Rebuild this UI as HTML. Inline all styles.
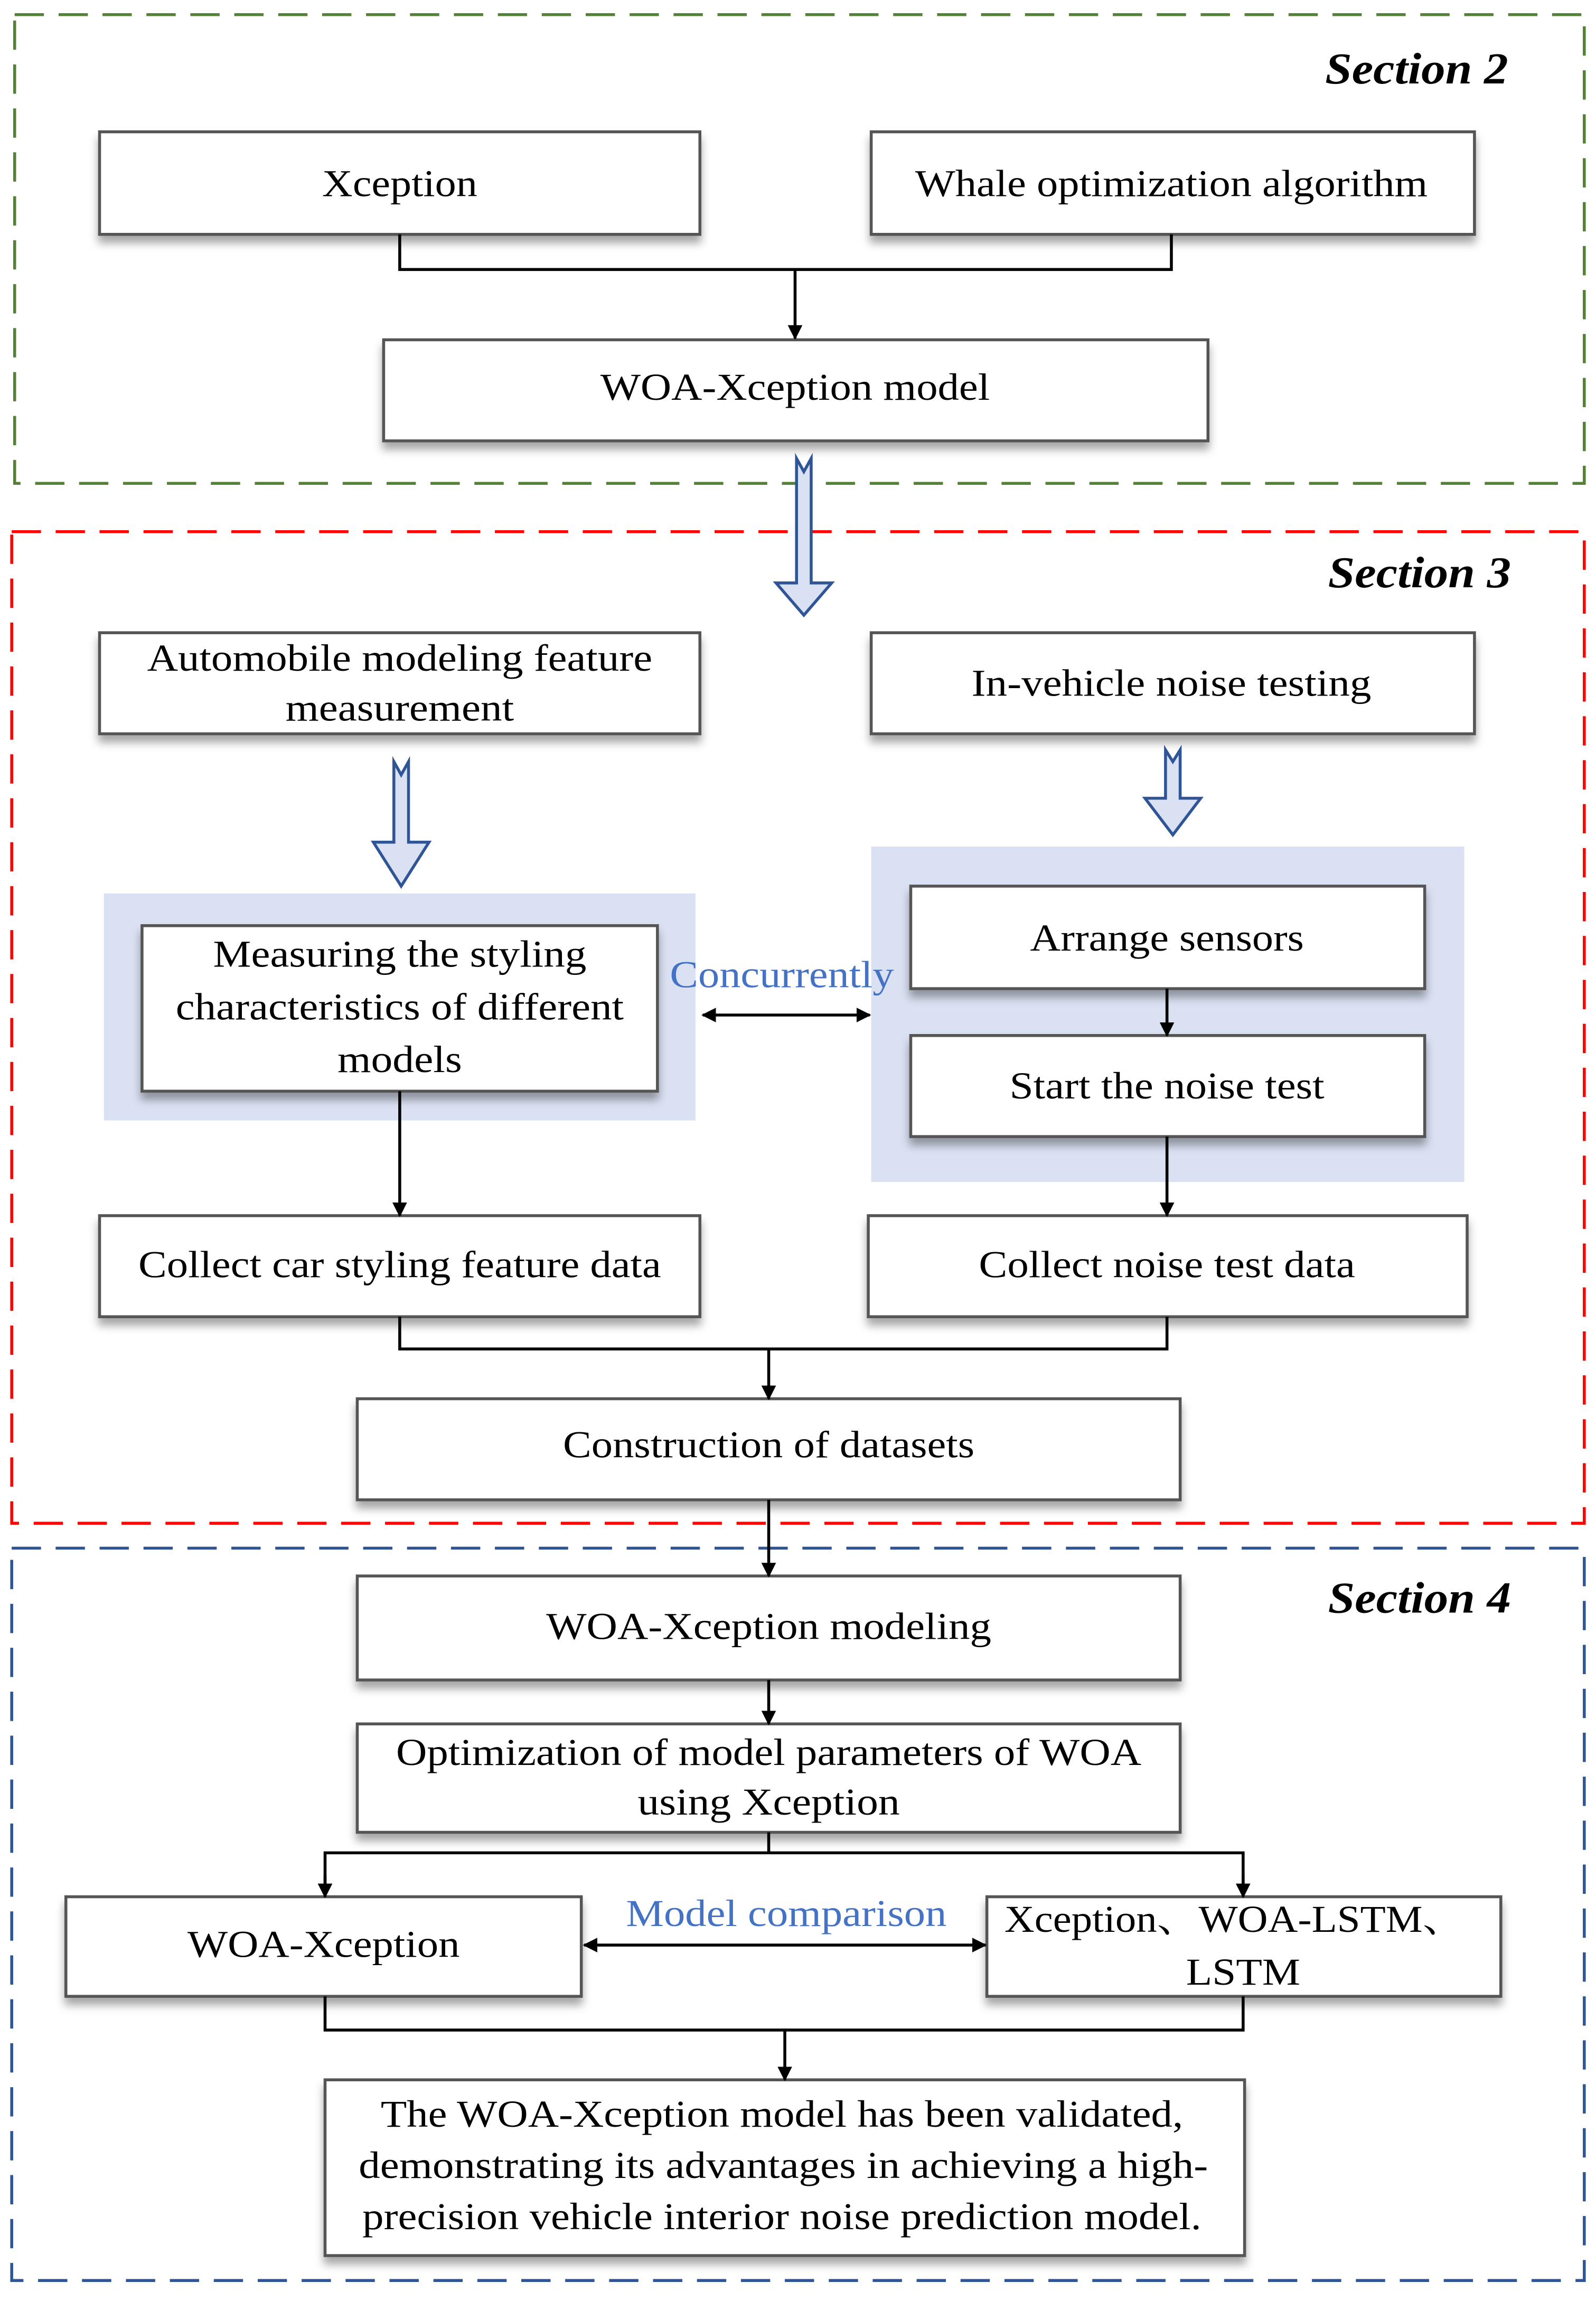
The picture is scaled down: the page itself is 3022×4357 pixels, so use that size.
<!DOCTYPE html>
<html><head><meta charset="utf-8"><style>
html,body{margin:0;padding:0;background:#fff}
svg{display:block}
text{font-family:"Liberation Serif","Noto Serif CJK SC",serif;font-size:26px;fill:#000}
.sec{font-weight:bold;font-style:italic;font-size:30px}
.blue{fill:#4472c4}
</style></head><body>
<svg width="3022" height="4357" viewBox="0 0 1090 1571" preserveAspectRatio="none" xmlns="http://www.w3.org/2000/svg">
<defs>
<filter id="sh" x="-5%" y="-10%" width="110%" height="140%"><feDropShadow dx="0" dy="5" stdDeviation="3" flood-color="#000" flood-opacity="0.35"/></filter>
<marker id="ah" markerWidth="10" markerHeight="12" refX="9" refY="6" orient="auto" markerUnits="userSpaceOnUse"><path d="M0,1 L10,6 L0,11 z" fill="#000"/></marker>
<marker id="as" markerWidth="10" markerHeight="12" refX="1" refY="6" orient="auto" markerUnits="userSpaceOnUse"><path d="M10,1 L0,6 L10,11 z" fill="#000"/></marker>
</defs>
<rect x="10" y="10" width="1072" height="320" fill="none" stroke="#548235" stroke-width="2" stroke-dasharray="20,10"/>
<rect x="8" y="363" width="1074" height="677" fill="none" stroke="#ff0000" stroke-width="2" stroke-dasharray="20,10"/>
<rect x="8" y="1057" width="1074" height="500" fill="none" stroke="#2f5597" stroke-width="2" stroke-dasharray="20,10"/>
<text class="sec" x="1030" y="57" text-anchor="end" textLength="125" lengthAdjust="spacingAndGlyphs">Section 2</text>
<text class="sec" x="1032" y="401" text-anchor="end" textLength="125" lengthAdjust="spacingAndGlyphs">Section 3</text>
<text class="sec" x="1032" y="1101" text-anchor="end" textLength="125" lengthAdjust="spacingAndGlyphs">Section 4</text>

<rect x="71" y="610" width="404" height="155" fill="#dae1f3"/>
<rect x="595" y="578" width="405" height="229" fill="#dae1f3"/>

<g fill="#fff" stroke="#555" stroke-width="2" filter="url(#sh)">
<rect x="68" y="90" width="410" height="70"/>
<rect x="595" y="90" width="412" height="70"/>
<rect x="262" y="232" width="563" height="69"/>
<rect x="68" y="432" width="410" height="69"/>
<rect x="595" y="432" width="412" height="69"/>
<rect x="97" y="632" width="352" height="113"/>
<rect x="622" y="605" width="351" height="70"/>
<rect x="622" y="707" width="351" height="69"/>
<rect x="68" y="830" width="410" height="69"/>
<rect x="593" y="830" width="409" height="69"/>
<rect x="244" y="955" width="562" height="69"/>
<rect x="244" y="1076" width="562" height="71"/>
<rect x="244" y="1177" width="562" height="74"/>
<rect x="45" y="1295" width="352" height="68"/>
<rect x="674" y="1295" width="351" height="68"/>
<rect x="222" y="1420" width="628" height="120"/>
</g>

<g fill="#dae1f3" stroke="#2f5597" stroke-width="2">
<path d="M544,313 L549,322 L554,313 L554,398 L568,398 L549,420 L530,398 L544,398 Z"/>
<path d="M269,520 L274,529 L279,520 L279,575 L293,575 L274,605 L255,575 L269,575 Z"/>
<path d="M796,512 L801,520 L806,512 L806,545 L820,545 L801,570 L782,545 L796,545 Z"/>
</g>

<g fill="none" stroke="#000" stroke-width="2">
<path d="M273,160 V184 H800 V160"/>
<path d="M543,184 V231" marker-end="url(#ah)"/>
<path d="M273,745 V830" marker-end="url(#ah)"/>
<path d="M797,675 V707" marker-end="url(#ah)"/>
<path d="M797,776 V830" marker-end="url(#ah)"/>
<path d="M273,899 V921 H797 V899"/>
<path d="M525,921 V955" marker-end="url(#ah)"/>
<path d="M525,1024 V1076" marker-end="url(#ah)"/>
<path d="M525,1147 V1177" marker-end="url(#ah)"/>
<path d="M525,1251 V1265"/>
<path d="M222,1295 V1265 H849 V1295"/>
<path d="M222,1280 V1295" marker-end="url(#ah)"/>
<path d="M849,1280 V1295" marker-end="url(#ah)"/>
<path d="M222,1363 V1386 H849 V1363"/>
<path d="M536,1386 V1420" marker-end="url(#ah)"/>
<path d="M480,693 H594" marker-start="url(#as)" marker-end="url(#ah)"/>
<path d="M399,1328 H673" marker-start="url(#as)" marker-end="url(#ah)"/>
</g>

<g text-anchor="middle">
<text x="273" y="134" textLength="106" lengthAdjust="spacingAndGlyphs">Xception</text>
<text x="800" y="134" textLength="350" lengthAdjust="spacingAndGlyphs">Whale optimization algorithm</text>
<text x="543" y="273" textLength="266" lengthAdjust="spacingAndGlyphs">WOA-Xception model</text>
<text x="273" y="458" textLength="345" lengthAdjust="spacingAndGlyphs">Automobile modeling feature</text>
<text x="273" y="492" textLength="156" lengthAdjust="spacingAndGlyphs">measurement</text>
<text x="800" y="475" textLength="273" lengthAdjust="spacingAndGlyphs">In-vehicle noise testing</text>
<text x="273" y="660" textLength="255" lengthAdjust="spacingAndGlyphs">Measuring the styling</text>
<text x="273" y="696" textLength="306" lengthAdjust="spacingAndGlyphs">characteristics of different</text>
<text x="273" y="732" textLength="85" lengthAdjust="spacingAndGlyphs">models</text>
<text class="blue" x="534" y="674" textLength="153" lengthAdjust="spacingAndGlyphs">Concurrently</text>
<text x="797" y="649" textLength="187" lengthAdjust="spacingAndGlyphs">Arrange sensors</text>
<text x="797" y="750" textLength="215" lengthAdjust="spacingAndGlyphs">Start the noise test</text>
<text x="273" y="872" textLength="357" lengthAdjust="spacingAndGlyphs">Collect car styling feature data</text>
<text x="797" y="872" textLength="257" lengthAdjust="spacingAndGlyphs">Collect noise test data</text>
<text x="525" y="995" textLength="281" lengthAdjust="spacingAndGlyphs">Construction of datasets</text>
<text x="525" y="1119" textLength="304" lengthAdjust="spacingAndGlyphs">WOA-Xception modeling</text>
<text x="525" y="1205" textLength="509" lengthAdjust="spacingAndGlyphs">Optimization of model parameters of WOA</text>
<text x="525" y="1239" textLength="179" lengthAdjust="spacingAndGlyphs">using Xception</text>
<text class="blue" x="537" y="1315" textLength="219" lengthAdjust="spacingAndGlyphs">Model comparison</text>
<text x="221" y="1336" textLength="186" lengthAdjust="spacingAndGlyphs">WOA-Xception</text>
<text x="843" y="1319" textLength="314" lengthAdjust="spacingAndGlyphs">Xception、WOA-LSTM、</text>
<text x="849" y="1355" textLength="78" lengthAdjust="spacingAndGlyphs">LSTM</text>
<text x="534" y="1452" textLength="548" lengthAdjust="spacingAndGlyphs">The WOA-Xception model has been validated,</text>
<text x="535" y="1487" textLength="580" lengthAdjust="spacingAndGlyphs">demonstrating its advantages in achieving a high-</text>
<text x="534" y="1522" textLength="573" lengthAdjust="spacingAndGlyphs">precision vehicle interior noise prediction model.</text>
</g>
</svg>
</body></html>
